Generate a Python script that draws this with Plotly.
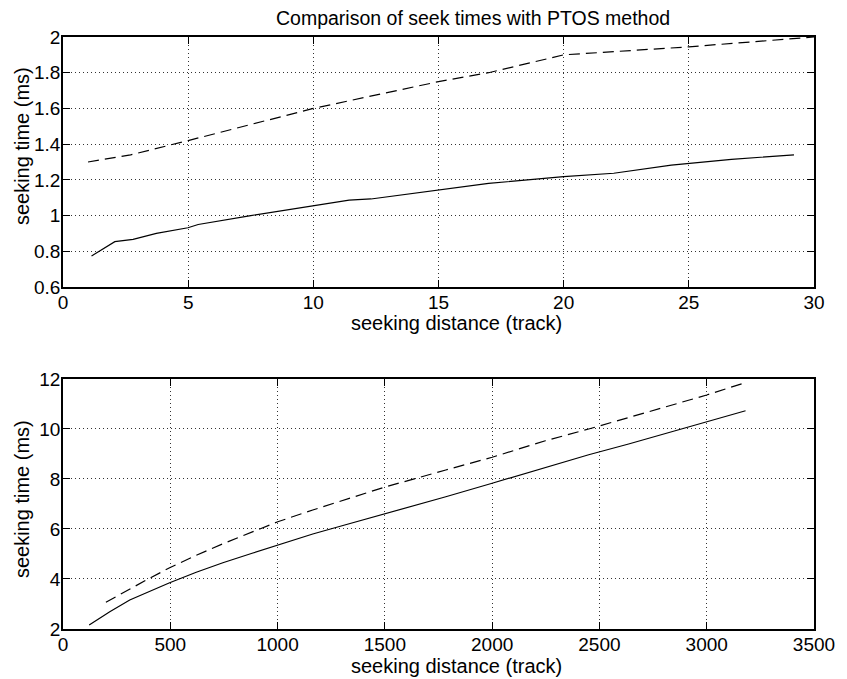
import plotly.graph_objects as go

# top subplot (short seeks)
top_solid_x = [1.14, 2.07, 2.8, 3.73, 4.99, 5.4, 7.5, 9.97, 11.43, 12.3, 15.6, 17.0, 20.0, 22.0, 24.3, 25.5, 26.7, 29.2]
top_solid_y = [0.774, 0.854, 0.867, 0.90, 0.932, 0.95, 1.0, 1.053, 1.087, 1.093, 1.156, 1.18, 1.218, 1.237, 1.283, 1.30, 1.315, 1.34]
top_dash_x = [1.0, 2.7, 5.0, 10.0, 15.0, 17.0, 20.0, 25.0, 30.0]
top_dash_y = [1.30, 1.34, 1.42, 1.60, 1.75, 1.80, 1.90, 1.945, 2.0]

# bottom subplot (long seeks)
bot_solid_x = [122, 218, 311, 405, 497, 621, 745, 885, 1001, 1164, 1288, 1497, 1784, 2000, 2248, 2450, 2636, 3000, 3181]
bot_solid_y = [2.16, 2.69, 3.16, 3.52, 3.85, 4.27, 4.65, 5.04, 5.36, 5.80, 6.10, 6.59, 7.29, 7.83, 8.47, 8.97, 9.40, 10.29, 10.73]
bot_dash_x = [200, 311, 397, 497, 621, 745, 885, 1001, 1164, 1288, 1497, 1784, 2000, 2248, 2450, 2714, 3000, 3178]
bot_dash_y = [3.07, 3.60, 4.00, 4.45, 4.95, 5.41, 5.90, 6.29, 6.76, 7.10, 7.67, 8.36, 8.87, 9.53, 10.0, 10.65, 11.36, 11.85]

top_xticks = [0, 5, 10, 15, 20, 25, 30]
top_yticks = [0.6, 0.8, 1.0, 1.2, 1.4, 1.6, 1.8, 2.0]
top_ylabels = ["0.6", "0.8", "1", "1.2", "1.4", "1.6", "1.8", "2"]
bot_xticks = [0, 500, 1000, 1500, 2000, 2500, 3000, 3500]
bot_yticks = [2, 4, 6, 8, 10, 12]

title = "Comparison of seek times with PTOS method"
xtitle = "seeking distance (track)"
ytitle = "seeking time (ms)"

FONT = "Liberation Sans, Arial, Helvetica, sans-serif"
line = dict(color="black", width=1.2)
dline = dict(color="black", width=1.2, dash="11px,6px")

fig = go.Figure()
fig.add_trace(go.Scatter(x=top_solid_x, y=top_solid_y, mode="lines", line=line, xaxis="x", yaxis="y"))
fig.add_trace(go.Scatter(x=top_dash_x, y=top_dash_y, mode="lines", line=dline, xaxis="x", yaxis="y"))
fig.add_trace(go.Scatter(x=bot_solid_x, y=bot_solid_y, mode="lines", line=line, xaxis="x2", yaxis="y2"))
fig.add_trace(go.Scatter(x=bot_dash_x, y=bot_dash_y, mode="lines", line=dline, xaxis="x2", yaxis="y2"))

ax = dict(showline=True, linecolor="black", linewidth=1.5, mirror="ticks", ticks="inside",
          ticklen=7, tickcolor="black", showgrid=True, gridcolor="#333333", gridwidth=1,
          griddash="1px,3px", zeroline=False, ticklabelstandoff=-3,
          tickfont=dict(family=FONT, size=19, color="black"))

fig.update_layout(
    width=847, height=679, showlegend=False,
    paper_bgcolor="white", plot_bgcolor="white",
    margin=dict(l=63, r=31, t=37, b=50),
    font=dict(family=FONT, size=19, color="black"),
    xaxis=dict(ax, domain=[0, 1], range=[0, 30], tickvals=top_xticks, anchor="y"),
    yaxis=dict(ax, domain=[0.5777, 1], range=[0.6, 2.0], tickvals=top_yticks, ticktext=top_ylabels, anchor="x"),
    xaxis2=dict(ax, domain=[0, 1], range=[0, 3500], tickvals=bot_xticks, anchor="y2"),
    yaxis2=dict(ax, domain=[0, 0.4223], range=[2, 12], tickvals=bot_yticks, anchor="x2"),
)

ann = [
    dict(text=title, x=474, y=18, size=19.5, angle=0),
    dict(text=xtitle, x=458, y=323, size=20, angle=0),
    dict(text=xtitle, x=458, y=666, size=20, angle=0),
    dict(text=ytitle, x=22, y=146, size=20, angle=-90),
    dict(text=ytitle, x=22, y=499, size=20, angle=-90),
]
for a in ann:
    fig.add_annotation(text=a["text"], x=(a["x"] - 63) / (847 - 63 - 31), y=(629 - a["y"]) / (629 - 37),
                       xref="paper", yref="paper", xanchor="center", yanchor="middle", showarrow=False,
                       textangle=a["angle"], font=dict(family=FONT, color="black", size=a["size"]))

fig.write_html("out.html")
